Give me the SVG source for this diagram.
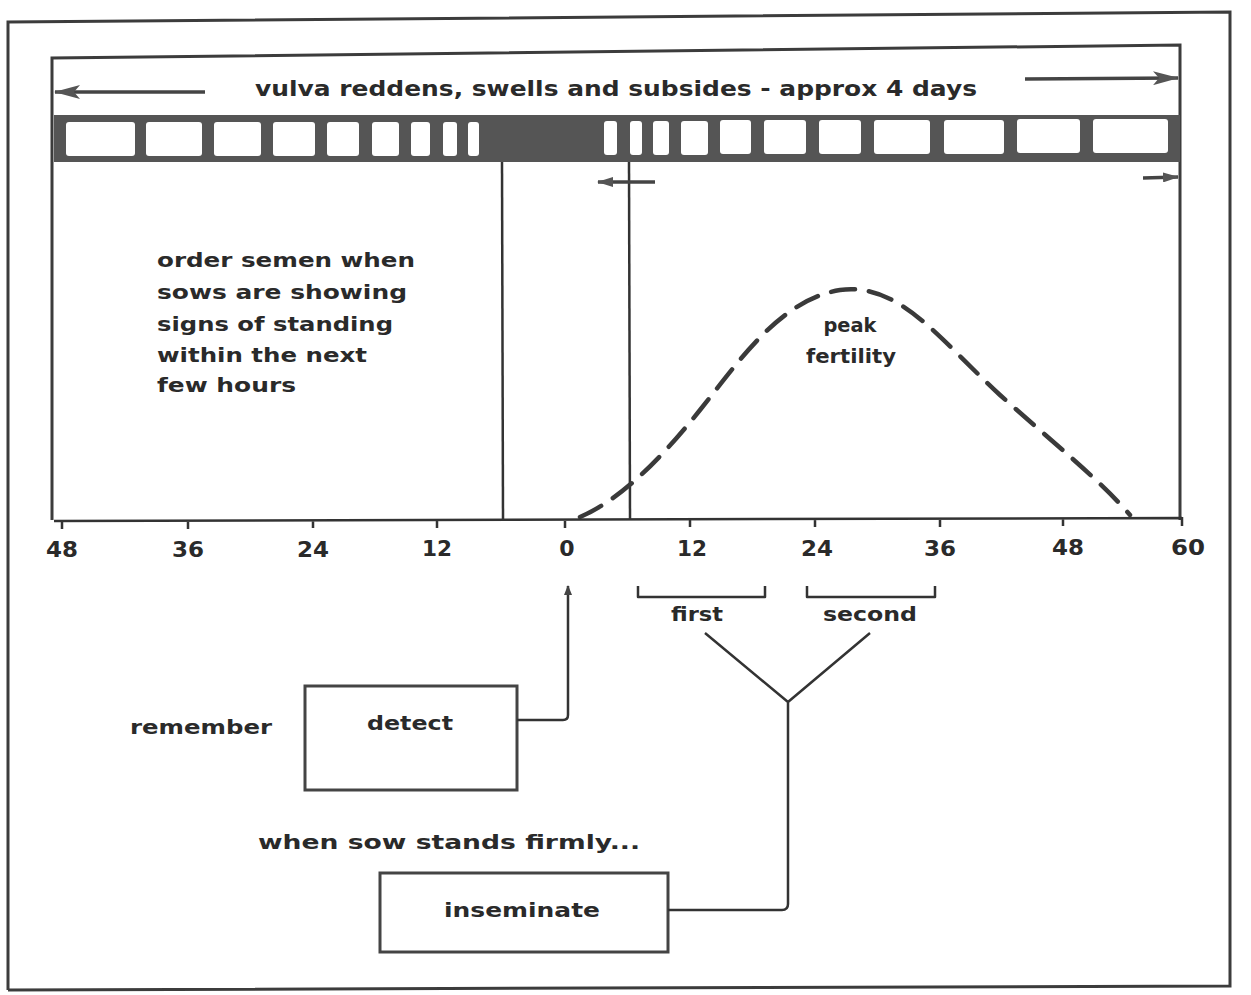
<svg xmlns="http://www.w3.org/2000/svg" width="1251" height="995" viewBox="0 0 1251 995">
<defs>
<style>
.frame{fill:none;stroke:#3c3c3c;stroke-width:3}
.ln{fill:none;stroke:#333;stroke-width:2.5;stroke-linejoin:round}
.arr{fill:none;stroke:#444;stroke-width:3.5}
.dash{fill:none;stroke:#3a3a3a;stroke-width:4.5;stroke-dasharray:24 14;stroke-linecap:round}
.cell{fill:#fff;stroke:none}
.t{font-family:"DejaVu Sans","Liberation Sans",sans-serif;font-weight:bold;fill:#2a2a2a}
.box{fill:#fff;stroke:#444;stroke-width:3}
</style>
<marker id="ah" viewBox="0 0 26 14" refX="25" refY="7" markerWidth="26" markerHeight="14" orient="auto-start-reverse" markerUnits="userSpaceOnUse">
<path d="M0,0 L26,7 L0,14 L6,7 Z" fill="#555"/>
</marker>
<marker id="ahm" viewBox="0 0 16 10" refX="15" refY="5" markerWidth="16" markerHeight="10" orient="auto-start-reverse" markerUnits="userSpaceOnUse">
<path d="M0,0 L16,5 L0,10 Z" fill="#555"/>
</marker>
<marker id="ahs" viewBox="0 0 10 10" refX="9" refY="5" markerWidth="10" markerHeight="10" orient="auto-start-reverse" markerUnits="userSpaceOnUse">
<path d="M0,1 L10,5 L0,9 Z" fill="#444"/>
</marker>
</defs>
<rect width="1251" height="995" fill="#fff"/>

<g id="outer-frame">
<path class="frame" d="M8,990 L8,22 L1230,12 L1230,986 L8,990"/>
</g>

<g id="chart">
<path class="frame" d="M52,520 L52,58 L1180,45 L1180,520"/>
<g id="top-band">
<line class="arr" x1="205" y1="92" x2="55" y2="92" marker-end="url(#ah)"/>
<line class="arr" x1="1025" y1="79" x2="1178" y2="78" marker-end="url(#ah)"/>
<text class="t" x="616" y="96" font-size="21" text-anchor="middle" textLength="722" lengthAdjust="spacingAndGlyphs">vulva reddens, swells and subsides - approx 4 days</text>
</g>
<g id="bar">
<rect x="54" y="115" width="1126" height="47" fill="#555"/>
<rect class="cell" x="66" y="122" width="69" height="34" rx="3"/>
<rect class="cell" x="146" y="122" width="56" height="34" rx="3"/>
<rect class="cell" x="214" y="122" width="47" height="34" rx="3"/>
<rect class="cell" x="273" y="122" width="42" height="34" rx="3"/>
<rect class="cell" x="327" y="122" width="32" height="34" rx="3"/>
<rect class="cell" x="372" y="122" width="27" height="34" rx="3"/>
<rect class="cell" x="411" y="122" width="19" height="34" rx="3"/>
<rect class="cell" x="443" y="122" width="14" height="34" rx="3"/>
<rect class="cell" x="468" y="122" width="11" height="34" rx="3"/>
<rect class="cell" x="604" y="121" width="13" height="34" rx="3"/>
<rect class="cell" x="630" y="121" width="12" height="34" rx="3"/>
<rect class="cell" x="653" y="121" width="16" height="34" rx="3"/>
<rect class="cell" x="681" y="121" width="27" height="34" rx="3"/>
<rect class="cell" x="720" y="120" width="31" height="34" rx="3"/>
<rect class="cell" x="764" y="120" width="42" height="34" rx="3"/>
<rect class="cell" x="819" y="120" width="42" height="34" rx="3"/>
<rect class="cell" x="874" y="120" width="56" height="34" rx="3"/>
<rect class="cell" x="944" y="120" width="60" height="34" rx="3"/>
<rect class="cell" x="1017" y="119" width="63" height="34" rx="3"/>
<rect class="cell" x="1093" y="119" width="75" height="34" rx="3"/>
</g>
<g id="markers">
<line class="ln" x1="502" y1="162" x2="503" y2="519"/>
<line class="ln" x1="629" y1="162" x2="630" y2="519"/>
<line class="arr" x1="655" y1="182" x2="598" y2="182" marker-end="url(#ahm)"/>
<line class="arr" x1="1143" y1="178" x2="1178" y2="177" marker-end="url(#ahm)"/>
</g>
<g id="left-note">
<text class="t" font-size="20"><tspan x="157" y="267" textLength="258" lengthAdjust="spacingAndGlyphs">order semen when</tspan><tspan x="157" y="299" textLength="250" lengthAdjust="spacingAndGlyphs">sows are showing</tspan><tspan x="157" y="331" textLength="236" lengthAdjust="spacingAndGlyphs">signs of standing</tspan><tspan x="157" y="362" textLength="210" lengthAdjust="spacingAndGlyphs">within the next</tspan><tspan x="157" y="392" textLength="139" lengthAdjust="spacingAndGlyphs">few hours</tspan></text>
</g>
<g id="fertility-curve">
<path class="dash" d="M580,517 C620,500 660,460 700,410 C740,360 780,300 840,290 C900,282 940,340 1000,395 C1050,440 1100,480 1130,515"/>
<text class="t" x="850" y="332" font-size="19" text-anchor="middle" textLength="53" lengthAdjust="spacingAndGlyphs">peak</text>
<text class="t" x="851" y="363" font-size="19" text-anchor="middle" textLength="90" lengthAdjust="spacingAndGlyphs">fertility</text>
</g>
<g id="axis">
<path class="ln" d="M54,521 L1182,518 M62,521 v8 M188,521 v8 M313,520 v8 M437,520 v8 M565,520 v8 M690,519 v8 M815,519 v8 M940,519 v8 M1063,518 v8 M1182,517 v9"/>
<g class="t" font-size="22" text-anchor="middle">
<text x="62" y="557" textLength="32" lengthAdjust="spacingAndGlyphs">48</text>
<text x="188" y="557" textLength="32" lengthAdjust="spacingAndGlyphs">36</text>
<text x="313" y="557" textLength="32" lengthAdjust="spacingAndGlyphs">24</text>
<text x="437" y="556" textLength="30" lengthAdjust="spacingAndGlyphs">12</text>
<text x="567" y="556">0</text>
<text x="692" y="556" textLength="30" lengthAdjust="spacingAndGlyphs">12</text>
<text x="817" y="556" textLength="32" lengthAdjust="spacingAndGlyphs">24</text>
<text x="940" y="556" textLength="32" lengthAdjust="spacingAndGlyphs">36</text>
<text x="1068" y="555" textLength="32" lengthAdjust="spacingAndGlyphs">48</text>
<text x="1188" y="555" textLength="34" lengthAdjust="spacingAndGlyphs">60</text>
</g>
</g>
<g id="brackets">
<path class="ln" d="M638,586 V597 H765 V586"/>
<path class="ln" d="M807,586 V597 H935 V586"/>
<text class="t" x="697" y="621" font-size="19" text-anchor="middle" textLength="52" lengthAdjust="spacingAndGlyphs">first</text>
<text class="t" x="870" y="621" font-size="19" text-anchor="middle" textLength="94" lengthAdjust="spacingAndGlyphs">second</text>
</g>
</g>

<g id="node-detect">
<text class="t" x="130" y="734" font-size="20" textLength="142" lengthAdjust="spacingAndGlyphs">remember</text>
<rect class="box" x="305" y="686" width="212" height="104"/>
<text class="t" x="410" y="730" font-size="20" text-anchor="middle" textLength="86" lengthAdjust="spacingAndGlyphs">detect</text>
</g>

<g id="node-inseminate">
<text class="t" x="258" y="849" font-size="20" textLength="382" lengthAdjust="spacingAndGlyphs">when sow stands firmly...</text>
<rect class="box" x="380" y="873" width="288" height="79"/>
<text class="t" x="522" y="917" font-size="20" text-anchor="middle" textLength="156" lengthAdjust="spacingAndGlyphs">inseminate</text>
</g>

<g id="connectors">
<path class="ln" d="M517,720 H563 Q568,720 568,715 V586" marker-end="url(#ahs)"/>
<path class="ln" d="M705,633 L788,702 L870,633 M788,702 V904 Q788,910 782,910 H668"/>
</g>
</svg>
